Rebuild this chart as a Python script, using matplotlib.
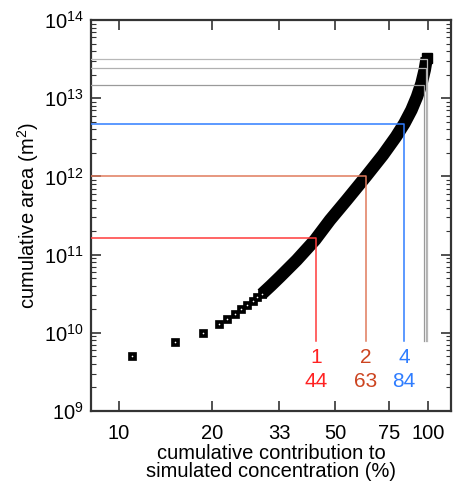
import numpy as np
import matplotlib
matplotlib.use('Agg')
import matplotlib.pyplot as plt
from matplotlib.ticker import FixedLocator, LogLocator, NullFormatter, NullLocator

plt.rcParams['font.family'] = ['Liberation Sans', 'DejaVu Sans']
plt.rcParams['mathtext.default'] = 'regular'

# discrete points at the low end (contribution %, cumulative area m^2)
pts_x = [11.0, 15.2, 18.7, 21.1, 22.4, 23.7, 24.9, 26.0, 27.1, 28.0, 29.0]
pts_y = [5.05e9, 7.56e9, 1.0e10, 1.28e10, 1.51e10, 1.75e10, 2.03e10,
         2.29e10, 2.55e10, 2.84e10, 3.13e10]

# dense part of the curve, read along the band
curve_x = [29.0, 31.0, 33.2, 37.6, 43.1, 48.2, 54.6, 63.0, 71.5, 78.8,
           83.9, 88.4, 92.1, 95.3, 97.6, 99.1]
curve_y = [3.13e10, 4.0e10, 5.2e10, 8.5e10, 1.54e11, 2.77e11, 5.0e11,
           1.0e12, 1.88e12, 3.22e12, 4.77e12, 7.06e12, 1.04e13, 1.55e13,
           2.30e13, 3.27e13]

# threshold corners: (contribution %, area)
thr_x = [43.5, 63.0, 83.6, 97.3, 98.7, 99.5]
thr_y = [1.62e11, 1.0e12, 4.64e12, 1.47e13, 2.41e13, 3.14e13]
thr_n = ['1', '2', '4', '', '', '']
thr_pct = ['44', '63', '84', '', '', '']
line_colors = ['#ff3b3b', '#e07a5c', '#2f7dff', '#9a9a9a', '#b0b0b0', '#b8b8b8']
text_colors = ['#ff2222', '#cc4420', '#2f7dff', '', '', '']
vline_bottom = 7.8e9

xticks = [10, 20, 33, 50, 75, 100]

fig = plt.figure(figsize=(4.54, 4.87), dpi=100)
ax = fig.add_axes([0.2004, 0.156, 0.793, 0.803])
ax.set_xscale('log')
ax.set_yscale('log')
xmin, xmax = 8.12, 118.7
ax.set_xlim(xmin, xmax)
ax.set_ylim(1e9, 1e14)

# dense band
ax.plot(curve_x, curve_y, color='black', lw=9.0, solid_capstyle='butt',
        solid_joinstyle='round', zorder=3)
ax.plot(curve_x[-1:], curve_y[-1:], ls='none', marker='s', ms=6.5,
        mfc='black', mec='black', zorder=3)
# discrete markers
ax.plot(pts_x, pts_y, ls='none', marker='s', ms=6.0, mfc='black',
        mec='black', mew=0.5, zorder=4)
ax.plot(pts_x, pts_y, ls='none', marker='o', ms=1.2, mfc='white',
        mec='white', mew=0, zorder=5)

for x, y, c in zip(thr_x, thr_y, line_colors):
    lw = 1.1 if c.startswith('#9') is False and c.startswith('#b') is False else 0.9
    ax.plot([xmin, x, x], [y, y, vline_bottom], color=c, lw=lw, zorder=6)

for x, n, p, c in zip(thr_x, thr_n, thr_pct, text_colors):
    if n:
        ax.text(x, 4.9e9, n, color=c, fontsize=15, ha='center', va='center')
        ax.text(x, 2.4e9, p, color=c, fontsize=15, ha='center', va='center')

ax.xaxis.set_major_locator(FixedLocator(xticks))
ax.xaxis.set_minor_locator(NullLocator())
ax.set_xticklabels([str(t) for t in xticks])
ax.yaxis.set_minor_locator(LogLocator(base=10, subs=np.arange(2, 10)))
ax.yaxis.set_minor_formatter(NullFormatter())

ax.tick_params(which='both', direction='in', top=True, right=True,
               labelsize=14.5, color='#333333')
ax.tick_params(which='major', length=7, width=1.2)
ax.tick_params(which='minor', length=3.5, width=0.8)
ax.tick_params(axis='x', pad=9)
ax.tick_params(axis='y', pad=5)
for s in ax.spines.values():
    s.set_linewidth(1.6)
    s.set_color('#333333')

ax.set_ylabel('cumulative area (m$^2$)', fontsize=14.5, labelpad=2)
ax.set_xlabel('cumulative contribution to\nsimulated concentration (%)',
              fontsize=14.5, labelpad=1, linespacing=0.95)

fig.savefig('out.png', dpi=100)
